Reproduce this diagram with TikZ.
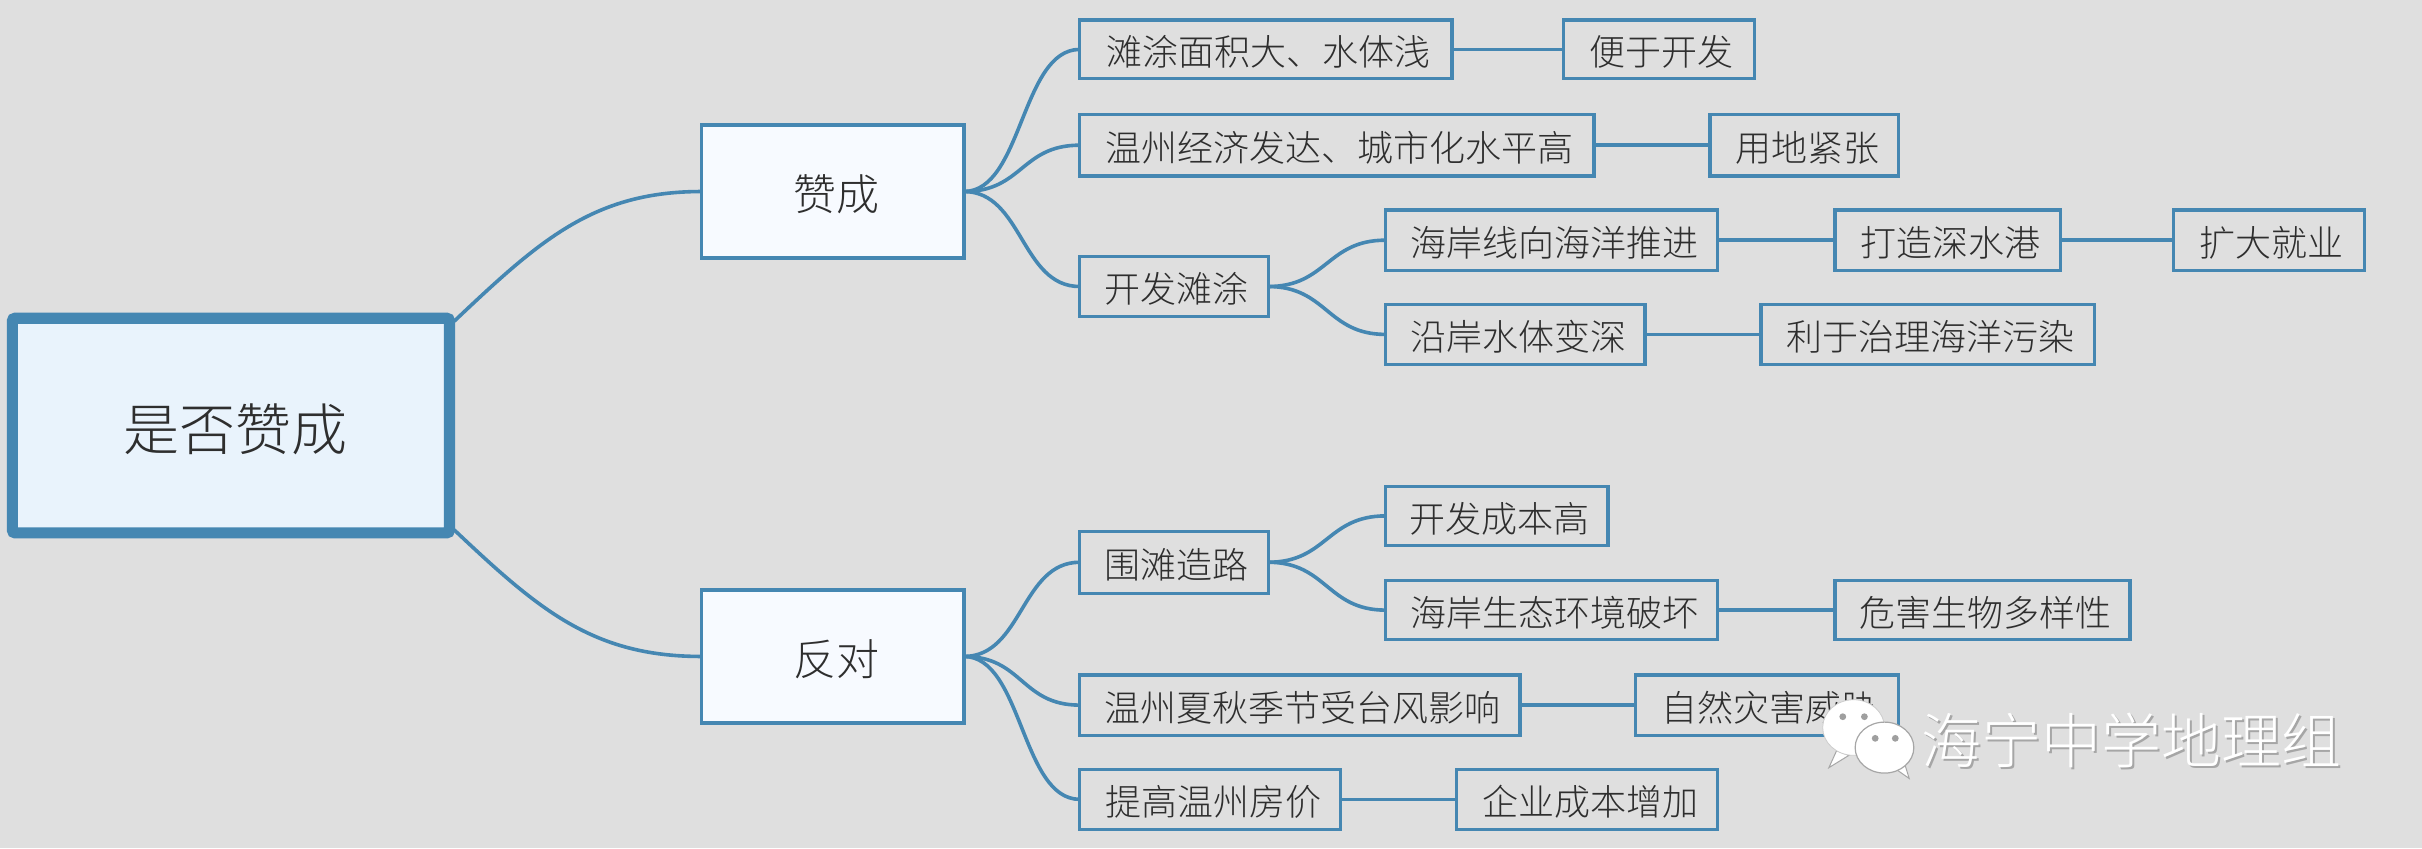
\documentclass[tikz,border=0pt]{standalone}
\usepackage{fontspec}
\setmainfont{Noto Sans CJK SC}[UprightFont={* Light}]
\definecolor{bgc}{HTML}{DFDFDF}
\definecolor{linec}{HTML}{4587B2}
\definecolor{rootf}{HTML}{E9F3FC}
\definecolor{midf}{HTML}{F7FAFF}
\definecolor{txt}{HTML}{2E2E2E}
\newcommand\bx[7][]{%
  \pgfmathsetmacro\bxw{(#4-#2)*0.7723}%
  \pgfmathsetmacro\bxh{(#5-#3)*0.7723}%
  \node[#7,minimum width=\bxw pt,minimum height=\bxh pt] (#1) at ({(#2+#4)/2},{(#3+#5)/2}) {\hspace*{0.16em}\raisebox{0pt}[0.9em][0em]{#6}};%
}
\tikzset{
  basebox/.style={draw=linec,text=txt,inner sep=0pt,outer sep=0pt,anchor=center},
  smallbox/.style={basebox,line width=1.6pt,font=\fontsize{18}{20}\selectfont},
  midbox/.style={basebox,fill=midf,line width=1.7pt,font=\fontsize{21.5}{24}\selectfont},
  rootbox/.style={basebox,fill=rootf,line width=5.6pt,rounded corners=1.5pt,font=\fontsize{28}{30}\selectfont},
  link/.style={draw=linec,line width=1.8pt},
  wmtext/.style={font=\fontsize{30}{32}\selectfont,inner sep=0pt,outer sep=0pt}
}
\begin{document}
\begin{tikzpicture}[x=0.7723pt,y=-0.7723pt]
\useasboundingbox (0,0) rectangle (1568,549);
\fill[bgc] (0,0) rectangle (1568,549);
\bx[root]{8}{206}{291}{345}{是否赞成}{rootbox}
\bx[yes]{454}{81}{624}{167}{赞成}{midbox}
\bx[no]{454}{382}{624}{468}{反对}{midbox}
\bx[a1]{699}{13}{940}{51}{滩涂面积大、水体浅}{smallbox}
\bx[a1b]{1012}{13}{1136}{51}{便于开发}{smallbox}
\bx[a2]{699}{74}{1032}{114}{温州经济发达、城市化水平高}{smallbox}
\bx[a2b]{1107}{74}{1229}{114}{用地紧张}{smallbox}
\bx[a3]{699}{166}{821}{205}{开发滩涂}{smallbox}
\bx[a31]{897}{136}{1112}{175}{海岸线向海洋推进}{smallbox}
\bx[a31b]{1188}{136}{1334}{175}{打造深水港}{smallbox}
\bx[a31c]{1407}{136}{1531}{175}{扩大就业}{smallbox}
\bx[a32]{897}{197}{1065}{236}{沿岸水体变深}{smallbox}
\bx[a32b]{1140}{197}{1356}{236}{利于治理海洋污染}{smallbox}
\bx[b1]{699}{344}{821}{384}{围滩造路}{smallbox}
\bx[b11]{897}{315}{1041}{353}{开发成本高}{smallbox}
\bx[b12]{897}{376}{1112}{414}{海岸生态环境破坏}{smallbox}
\bx[b12b]{1188}{376}{1379}{414}{危害生物多样性}{smallbox}
\bx[b2]{699}{437}{984}{476}{温州夏秋季节受台风影响}{smallbox}
\bx[b2b]{1059}{437}{1229}{476}{自然灾害威胁}{smallbox}
\bx[b3]{699}{498}{868}{537}{提高温州房价}{smallbox}
\bx[b3b]{943}{498}{1112}{537}{企业成本增加}{smallbox}
% root links
\draw[link] (root.north east) ++(3,2) coordinate (rt)
  (rt) .. controls +(55,-52) and +(-70,0) .. (yes.west);
\draw[link] (root.south east) ++(3,-2) coordinate (rb)
  (rb) .. controls +(55,52) and +(-70,0) .. (no.west);
% curved links
\foreach \p/\c in {yes/a1,yes/a2,yes/a3,a3/a31,a3/a32,b1/b11,b1/b12,no/b1,no/b2,no/b3}{
  \draw[link] (\p.east) .. controls +(38,0) and +(-38,0) .. (\c.west);
}
% straight links
\foreach \p/\c in {a1/a1b,a2/a2b,a31/a31b,a31b/a31c,a32/a32b,b12/b12b,b2/b2b,b3/b3b}{
  \draw[link] (\p.east) -- (\c.west);
}
% watermark
\path[fill=white,draw=gray!70,line width=0.5pt] (1189,486) -- (1184,497) -- (1197,489) -- cycle;
\path[fill=white,draw=gray!40,line width=0.4pt] (1200,471) ellipse [x radius=20,y radius=18];
\fill[gray!75] (1193,464) circle [radius=2.2] (1207,464) circle [radius=2.2];
\path[fill=white,draw=gray!70,line width=0.5pt] (1226,497) -- (1236,504) -- (1232,491) -- cycle;
\path[fill=white,draw=gray!70,line width=0.6pt] (1220,484) ellipse [x radius=19,y radius=16.5];
\fill[gray!75] (1214,478) circle [radius=2.2] (1227,478) circle [radius=2.2];
\node[wmtext,text=gray!70,anchor=center] (wms) at (1381,480.5) {海宁中学地理组};
\node[wmtext,text=white,anchor=center] (wm) at (1380,479.5) {海宁中学地理组};
\end{tikzpicture}
\end{document}
